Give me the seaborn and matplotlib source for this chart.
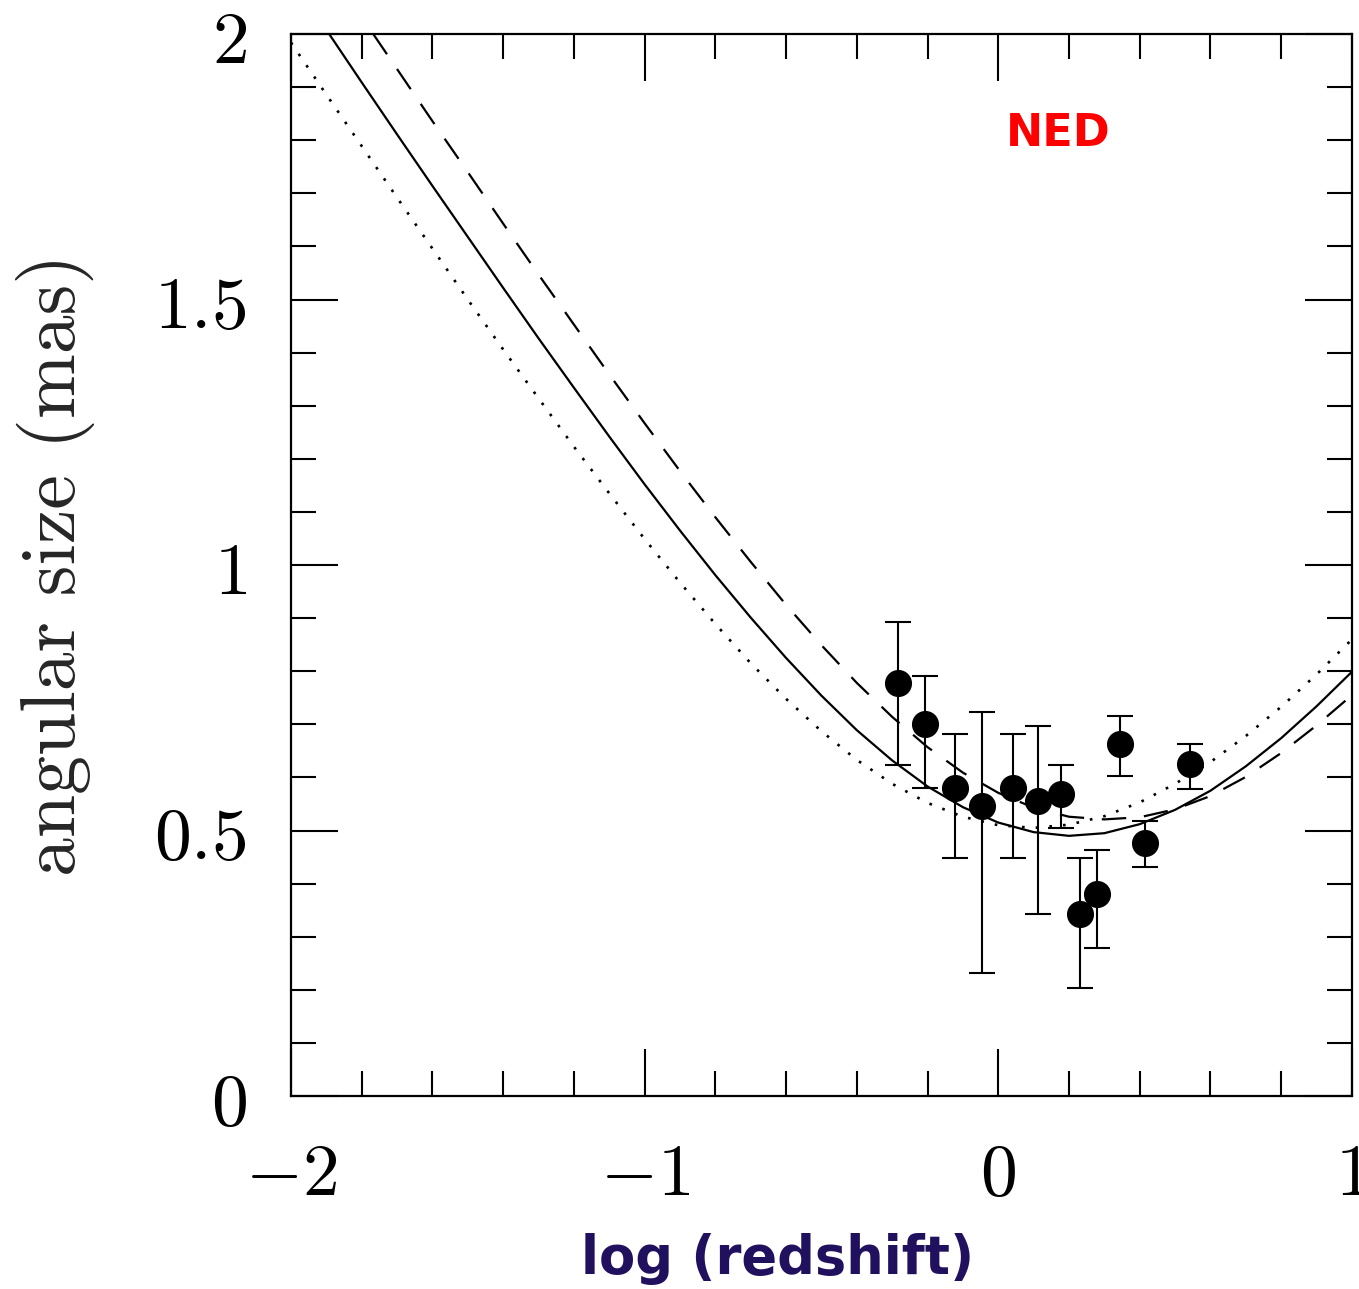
import numpy as np
import matplotlib
matplotlib.use("Agg")
import matplotlib.pyplot as plt
import seaborn as sns

# model curves (x = log redshift)
log_z = [-2.0, -1.9, -1.8, -1.7, -1.6, -1.5, -1.4, -1.3, -1.2, -1.1, -1.0,
         -0.9, -0.8, -0.7, -0.6, -0.5, -0.4, -0.3, -0.2, -0.1, 0.0,
         0.1, 0.2, 0.3, 0.4, 0.5, 0.6, 0.7, 0.8, 0.9, 1.0]
solid_curve = [2.106, 2.008, 1.909, 1.811, 1.714, 1.618, 1.522, 1.427, 1.334, 1.242, 1.152,
               1.065, 0.981, 0.901, 0.825, 0.754, 0.689, 0.632, 0.583, 0.544, 0.515,
               0.497, 0.490, 0.495, 0.512, 0.539, 0.575, 0.621, 0.674, 0.734, 0.799]
dashed_curve = [2.230, 2.132, 2.032, 1.934, 1.836, 1.740, 1.643, 1.547, 1.453, 1.359, 1.267,
                1.177, 1.090, 1.006, 0.925, 0.849, 0.778, 0.714, 0.657, 0.609, 0.571,
                0.543, 0.526, 0.521, 0.525, 0.540, 0.565, 0.601, 0.646, 0.698, 0.755]
dotted_curve = [1.984, 1.886, 1.789, 1.692, 1.596, 1.500, 1.406, 1.314, 1.223, 1.135, 1.049,
                0.967, 0.889, 0.815, 0.748, 0.687, 0.633, 0.588, 0.552, 0.526, 0.510,
                0.505, 0.511, 0.527, 0.553, 0.588, 0.629, 0.678, 0.733, 0.794, 0.860]

# NED data points with asymmetric error bars
data_x = [-0.284, -0.207, -0.122, -0.046, 0.041, 0.112, 0.177, 0.231, 0.279, 0.344, 0.415, 0.542]
data_y = [0.778, 0.701, 0.580, 0.546, 0.580, 0.556, 0.569, 0.342, 0.380, 0.663, 0.476, 0.625]
data_hi = [0.893, 0.791, 0.681, 0.723, 0.681, 0.697, 0.623, 0.448, 0.463, 0.716, 0.518, 0.663]
data_lo = [0.623, 0.580, 0.448, 0.232, 0.448, 0.342, 0.505, 0.203, 0.279, 0.603, 0.432, 0.579]

x_major = [-2, -1, 0, 1]
x_labels = [r'$-2$', r'$-1$', r'$0$', r'$1$']
y_major = [0, 0.5, 1, 1.5, 2]
y_labels = [r'$0$', r'$0.5$', r'$1$', r'$1.5$', r'$2$']

sns.set_theme(style="ticks")
plt.rcParams['font.family'] = ['DejaVu Sans']
plt.rcParams['mathtext.fontset'] = 'cm'

fig = plt.figure(figsize=(13.59, 12.89), dpi=100)
ax = fig.add_axes([0.2141, 0.1497, 0.7807, 0.8239])

sns.lineplot(x=log_z, y=solid_curve, ax=ax, color='black', lw=1.6,
             estimator=None, sort=False)
sns.lineplot(x=log_z, y=dashed_curve, ax=ax, color='black', lw=1.6,
             linestyle=(0, (11, 8)), estimator=None, sort=False)
sns.lineplot(x=log_z, y=dotted_curve, ax=ax, color='black', lw=1.9,
             linestyle=(0, (1, 4.2)), estimator=None, sort=False)

yerr = [np.array(data_y) - np.array(data_lo), np.array(data_hi) - np.array(data_y)]
ax.errorbar(data_x, data_y, yerr=yerr, fmt='o', color='black', ms=18.5,
            elinewidth=1.5, capsize=9.5, capthick=1.5, zorder=5)

ax.set_xlim(-2, 1)
ax.set_ylim(0, 2)
ax.set_xticks(x_major)
ax.set_xticklabels(x_labels)
ax.set_yticks(y_major)
ax.set_yticklabels(y_labels)
ax.set_xticks(np.arange(-2, 1.01, 0.2), minor=True)
ax.set_yticks(np.arange(0, 2.01, 0.1), minor=True)

ax.tick_params(which='both', direction='in', top=True, right=True, width=1.5,
               colors='black', labelsize=53)
ax.tick_params(which='major', length=34)
ax.tick_params(which='minor', length=18)
ax.tick_params(axis='x', which='major', pad=30)
ax.tick_params(axis='y', which='major', pad=32)
for sp in ax.spines.values():
    sp.set_linewidth(1.6)
    sp.set_color('black')

ax.set_ylabel('angular size (mas)', fontfamily='cmr10', fontsize=56)
ax.yaxis.set_label_coords(-0.2224, 0.5)
ax.yaxis.label.set_va('center')
ax.set_xlabel('log (redshift)', fontsize=38, fontweight='bold', color='#20105e')
ax.xaxis.set_label_coords(0.459, -0.153)
ax.xaxis.label.set_va('center')

ax.text(0.723, 0.906, 'NED', transform=ax.transAxes, color='#ff0000',
        fontsize=32, fontweight='bold', ha='center', va='center')

plt.savefig('out.png', dpi=100)
plt.close()
